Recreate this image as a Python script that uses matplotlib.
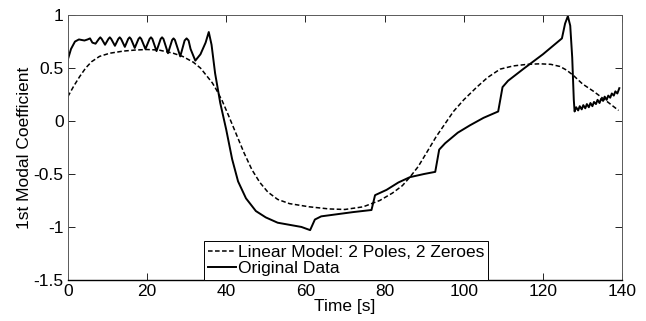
import matplotlib

matplotlib.use('Agg')
import matplotlib.pyplot as plt

plt.rcParams['font.family'] = ['Liberation Sans', 'DejaVu Sans']

# Original data
t_orig = [0, 0.8, 1.8, 2.8, 4.2, 5.0, 5.6, 6.2, 7.0,
          7.85, 8.2, 8.55, 9.4, 10.25, 10.6, 10.95, 11.9, 12.75, 13.1, 13.45,
          14.4, 15.25, 15.6, 15.95, 16.9, 17.85, 18.2, 18.55, 19.6, 20.65, 21.0,
          21.35, 22.4, 23.45, 23.8, 24.15, 25.3, 26.35, 26.7, 27.05, 28.4, 29.5,
          30.0, 30.5, 31.0, 32.2, 33.5, 34.8, 35.6, 36.3, 37.2, 38.5, 40, 41.5,
          43, 45, 47.5, 50, 53, 56, 59, 61.2, 62.4, 64, 68, 72, 76.7, 77.6, 80.5,
          83.5, 86.4, 90, 92.8, 93.8, 95.3, 98.5, 101.6, 105, 108.7, 109.8, 111.2,
          115, 120, 124.8, 125.6, 126.3, 126.9, 127.4, 127.8,
          128.0, 128.4, 128.9, 129.3, 129.8, 130.2, 130.7, 131.1, 131.6, 132.0,
          132.5, 132.9, 133.4, 133.8, 134.3, 134.7, 135.2, 135.6, 136.1, 136.5,
          137.0, 137.4, 137.9, 138.3, 138.8, 139.3]
y_orig = [0.58, 0.68, 0.75, 0.77, 0.76, 0.77, 0.78, 0.74, 0.73,
          0.775, 0.79, 0.775, 0.72, 0.775, 0.79, 0.775, 0.71, 0.775, 0.79, 0.775,
          0.70, 0.775, 0.79, 0.775, 0.69, 0.775, 0.79, 0.775, 0.68, 0.775, 0.79,
          0.775, 0.66, 0.775, 0.79, 0.775, 0.64, 0.765, 0.78, 0.765, 0.61, 0.76,
          0.78, 0.76, 0.68, 0.57, 0.63, 0.74, 0.84, 0.72, 0.45, 0.17, -0.08,
          -0.36, -0.57, -0.73, -0.85, -0.91, -0.96, -0.98, -1.00, -1.03, -0.93,
          -0.90, -0.88, -0.86, -0.84, -0.70, -0.65, -0.58, -0.53, -0.50, -0.48,
          -0.27, -0.21, -0.11, -0.04, 0.03, 0.09, 0.32, 0.38, 0.49, 0.63, 0.78,
          0.92, 0.99, 0.90, 0.60, 0.20,
          0.09, 0.13, 0.10, 0.14, 0.11, 0.15, 0.12, 0.16, 0.13, 0.17, 0.14, 0.18,
          0.16, 0.20, 0.17, 0.21, 0.19, 0.23, 0.20, 0.24, 0.22, 0.26, 0.24, 0.28,
          0.26, 0.31]

# Linear model: 2 poles, 2 zeroes
t_model = [0, 1.5, 3, 4.5, 6, 8, 10.6, 14, 17, 20, 23, 26.6, 29, 31.7, 33.5, 35,
           36.5, 37.6, 39, 40.5, 42.5, 44.5, 46.5, 48.5, 50.5, 53, 56, 61, 66,
           70, 74.6, 78.8, 82, 84.5, 86.4, 88.5, 90.6, 93, 97.4, 100, 103.3, 106,
           109.2, 112.5, 116, 119.3, 122, 124.3, 126, 127.7, 130, 132.8, 136, 139.1]
y_model = [0.23, 0.33, 0.42, 0.50, 0.56, 0.61, 0.64, 0.66, 0.67, 0.675, 0.67,
           0.64, 0.61, 0.555, 0.50, 0.43, 0.36, 0.29, 0.19, 0.06, -0.12, -0.30,
           -0.46, -0.58, -0.67, -0.74, -0.78, -0.81, -0.83, -0.835, -0.81, -0.75,
           -0.68, -0.61, -0.53, -0.43, -0.30, -0.15, 0.09, 0.20, 0.32, 0.41, 0.49,
           0.52, 0.535, 0.54, 0.535, 0.515, 0.48, 0.43, 0.35, 0.28, 0.19, 0.10]

x_ticks = [0, 20, 40, 60, 80, 100, 120, 140]
y_ticks = [-1.5, -1, -0.5, 0, 0.5, 1]
y_tick_labels = ['-1.5', '-1', '-0.5', '0', '0.5', '1']

fs = 12.5

fig = plt.figure(figsize=(6.46, 3.21), dpi=100)
ax = fig.add_axes([0.105, 0.128, 0.858, 0.825])

ax.plot(t_model, y_model, color='black', lw=1.1, linestyle=(0, (3, 1.6)),
        label='Linear Model: 2 Poles, 2 Zeroes')
ax.plot(t_orig, y_orig, color='black', lw=1.4, label='Original Data')

ax.set_xlim(0, 140)
ax.set_ylim(-1.5, 1)
ax.set_xticks(x_ticks)
ax.set_yticks(y_ticks)
ax.set_yticklabels(y_tick_labels)
ax.tick_params(direction='in', length=5, width=0.6, top=True, right=True,
               labelsize=fs, colors='black')
ax.tick_params(axis='x', pad=3)
ax.tick_params(axis='y', pad=3)
for side in ['top', 'right', 'left']:
    ax.spines[side].set_color('0.35')
    ax.spines[side].set_linewidth(0.7)
ax.spines['bottom'].set_linewidth(1.0)

ax.set_xlabel('Time [s]', fontsize=fs, labelpad=0)
ax.set_ylabel('1st Modal Coefficient', fontsize=fs, labelpad=1)

leg = ax.legend(loc='lower center', bbox_to_anchor=(0.502, 0), borderaxespad=0,
                fontsize=fs, handlelength=1.6, handletextpad=0.1,
                borderpad=0.22, labelspacing=0.05, fancybox=False, framealpha=1)
leg.get_frame().set_edgecolor('black')
leg.get_frame().set_linewidth(0.7)

fig.savefig('out.png', dpi=100)
plt.close(fig)
